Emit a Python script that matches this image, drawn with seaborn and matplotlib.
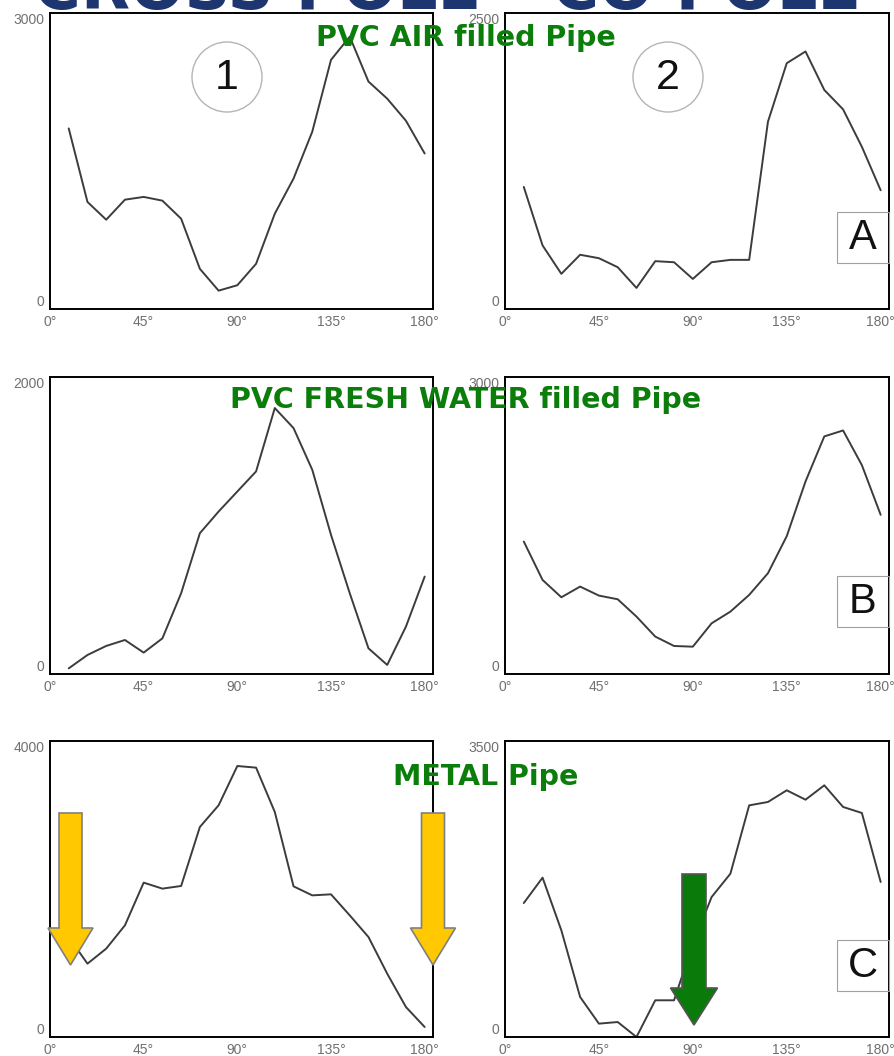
import matplotlib
matplotlib.use("Agg")
import matplotlib.pyplot as plt
import pandas as pd
import seaborn as sns
from matplotlib.patches import Ellipse, Polygon, Rectangle

# angle grid (degrees) shared by every panel
angles = [9, 18, 27, 36, 45, 54, 63, 72, 81, 90,
          99, 108, 117, 126, 135, 144, 153, 162, 171, 180]

# PVC air filled pipe
air_1 = [1830, 1085, 905, 1108, 1136, 1098, 915, 407, 186, 241,
         458, 966, 1322, 1797, 2525, 2760, 2305, 2132, 1908, 1576]
air_2 = [1031, 537, 297, 458, 429, 353, 178, 404, 395, 254,
         395, 415, 415, 1582, 2076, 2175, 1850, 1686, 1370, 1003]

# PVC fresh water filled pipe
water_1 = [38, 128, 189, 229, 144, 240, 544, 948, 1094, 1229,
           1364, 1791, 1656, 1375, 937, 544, 173, 61, 319, 656]
water_2 = [1338, 950, 775, 883, 792, 755, 580, 378, 283, 276,
           512, 630, 799, 1018, 1392, 1945, 2400, 2460, 2110, 1608]

# metal pipe
metal_1 = [1350, 991, 1194, 1509, 2086, 2005, 2041, 2838, 3131, 3662,
           3640, 3041, 2036, 1914, 1928, 1644, 1351, 856, 405, 135]
metal_2 = [1584, 1884, 1261, 473, 158, 177, 0, 434, 434, 1100,
           1655, 1931, 2739, 2779, 2917, 2806, 2976, 2720, 2649, 1833]

y_max = {"air_1": 3000, "air_2": 2500, "water_1": 2000, "water_2": 3000,
         "metal_1": 4000, "metal_2": 3500}
angle_ticks = [0, 45, 90, 135, 180]
angle_labels = ["0°", "45°", "90°", "135°", "180°"]

titles = ["PVC AIR filled Pipe", "PVC FRESH WATER filled Pipe", "METAL Pipe"]
row_letters = ["A", "B", "C"]

W, H = 894, 1056
GREEN = "#0b7d0b"
LINE = "#3c3c3c"


def fx(x):
    return x / W


def fy(y):
    return 1 - y / H


def add_axes(fig, left, top, right, bottom):
    return fig.add_axes([fx(left), fy(bottom), (right - left) / W, (bottom - top) / H])


def style_axis(ax, ymax):
    ax.set_xlim(0, 184)
    ax.set_ylim(0, ymax)
    ax.set_xticks(angle_ticks)
    ax.set_xticklabels(angle_labels)
    ax.set_xticks(range(18, 181, 18), minor=True)
    ax.set_yticks([0, ymax])
    ax.set_yticklabels(["0", str(ymax)])
    ax.set_yticks([ymax * i / 5 for i in range(1, 5)], minor=True)
    ax.tick_params(which="major", length=0, labelsize=10, labelcolor="#707070", pad=4)
    ax.tick_params(which="minor", direction="in", length=5, width=1.3, color="black")
    labs = ax.get_yticklabels()
    labs[0].set_va("bottom")
    labs[1].set_va("top")
    ax.set_xlabel("")
    ax.set_ylabel("")
    for sp in ax.spines.values():
        sp.set_visible(True)
        sp.set_linewidth(1.4)
        sp.set_color("black")


def down_arrow(fig, cx, top, head_top, tip, shaft_w, head_w, face, edge):
    pts = [(cx - shaft_w / 2, top), (cx + shaft_w / 2, top),
           (cx + shaft_w / 2, head_top), (cx + head_w / 2, head_top),
           (cx, tip), (cx - head_w / 2, head_top), (cx - shaft_w / 2, head_top)]
    poly = Polygon([(fx(x), fy(y)) for x, y in pts], closed=True,
                   transform=fig.transFigure, facecolor=face, edgecolor=edge,
                   linewidth=1.2, zorder=10)
    fig.add_artist(poly)


def main():
    sns.set_style("white")
    plt.rcParams["font.family"] = ["Liberation Sans", "DejaVu Sans"]

    fig = plt.figure(figsize=(W / 100, H / 100), dpi=100)

    rows = [("air_1", air_1, "air_2", air_2, 13, 309),
            ("water_1", water_1, "water_2", water_2, 377, 674),
            ("metal_1", metal_1, "metal_2", metal_2, 741, 1037)]

    for r, (k1, v1, k2, v2, top, bottom) in enumerate(rows):
        for (key, vals, left, right) in [(k1, v1, 50, 433), (k2, v2, 505, 889)]:
            ax = add_axes(fig, left, top, right, bottom)
            df = pd.DataFrame({"angle": angles, "amp": vals})
            sns.lineplot(data=df, x="angle", y="amp", ax=ax, color=LINE,
                         linewidth=1.4)
            style_axis(ax, y_max[key])

        # letter box on the right column
        fig.add_artist(Rectangle((fx(837), fy(top + 250)), 52 / W, 51 / H,
                                 transform=fig.transFigure, fill=False,
                                 edgecolor="#a0a0a0", linewidth=0.8))
        fig.text(fx(863), fy(top + 225), row_letters[r], ha="center",
                 va="center", fontsize=30, color="#111111")

    # circled column numbers
    for cx, num in [(227, "1"), (668, "2")]:
        fig.add_artist(Ellipse((fx(cx), fy(77)), 70 / W, 70 / H,
                               transform=fig.transFigure, fill=False,
                               edgecolor="#b5b5b5", linewidth=1.0))
        fig.text(fx(cx), fy(78), num, ha="center", va="center",
                 fontsize=31, color="#111111")

    # green section titles
    for text, (x, y) in zip(titles, [(466, 38), (466, 400), (486, 777)]):
        fig.text(fx(x), fy(y), text, ha="center", va="center", fontsize=20.5,
                 fontweight="bold", color=GREEN, family="DejaVu Sans",
                 zorder=20)

    # heading cut off by the top edge
    fig.text(0.5, fy(9), "CROSS POLE - CO POLE", ha="center", va="baseline",
             fontsize=46, fontweight="bold", color="#1d3670",
             family="DejaVu Sans")

    down_arrow(fig, 70.5, 813, 928, 965, 23, 45, "#ffc800", "#808080")
    down_arrow(fig, 433, 813, 928, 965, 23, 45, "#ffc800", "#808080")
    down_arrow(fig, 694, 874, 988, 1025, 24, 47, "#0a7a0a", "#555555")

    fig.savefig("out.png", dpi=100, facecolor="white")
    plt.close(fig)


if __name__ == "__main__":
    main()
